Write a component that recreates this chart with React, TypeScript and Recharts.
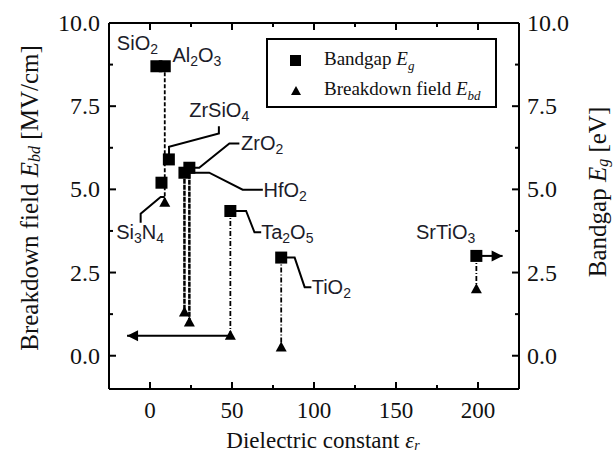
import React from "react";
import { ScatterChart, Scatter, XAxis, YAxis, Legend } from "recharts";

// bandgap points (squares), eps vs Eg [eV]
const gapNames = ["SiO2", "Al2O3", "Si3N4", "ZrSiO4", "HfO2", "ZrO2", "Ta2O5", "TiO2", "SrTiO3"];
const gapEps = [3.9, 9, 7, 11.5, 21, 24, 49, 80, 199];
const gapEg = [8.7, 8.7, 5.2, 5.9, 5.5, 5.65, 4.35, 2.95, 3.0];

// breakdown field points (triangles), eps vs Ebd [MV/cm]
const fieldEps = [9, 21, 24, 49, 80, 199];
const fieldEbd = [4.6, 1.3, 1.0, 0.6, 0.25, 2.0];
const fieldTop = [8.7, 5.5, 5.65, 4.35, 2.95, 3.0];
const fieldDash = ["4 2", "5 1", "5 1", "5 2 1 2", "5 2 1 2", "5 2 1 2"];

// arrows (from, to)
const arrows = [
  { from: [49, 0.6], to: [-14, 0.6], dir: "left" },
  { from: [199, 3.0], to: [215, 3.0], dir: "right" },
];

// leader lines to labels
const leaders = [
  [[11.6, 5.9], [11.6, 6.28], [42, 6.68], [42, 6.9]],
  [[24, 5.65], [30, 5.65], [48.4, 6.38], [54.5, 6.38]],
  [[21, 5.5], [36.1, 5.5], [56.5, 4.99], [68.8, 4.99]],
  [[49, 4.35], [58.6, 4.35], [63.7, 3.71], [67.8, 3.71]],
  [[80, 2.95], [88.2, 2.95], [94.3, 2.06], [98.4, 2.06]],
  [[9, 4.77], [6.5, 4.77], [-5.7, 4.27], [-5.7, 4.0]],
];

// label anchors
const labels = [
  { name: "SiO2", x: -20.2, y: 9.4, anchor: "start" },
  { name: "Al2O3", x: 13.7, y: 9.04, anchor: "start" },
  { name: "ZrSiO4", x: 23.9, y: 7.38, anchor: "start" },
  { name: "ZrO2", x: 55.5, y: 6.38, anchor: "start" },
  { name: "HfO2", x: 69.2, y: 4.99, anchor: "start" },
  { name: "Ta2O5", x: 67.8, y: 3.71, anchor: "start" },
  { name: "TiO2", x: 98.6, y: 2.06, anchor: "start" },
  { name: "Si3N4", x: -6, y: 3.71, anchor: "middle" },
  { name: "SrTiO3", x: 162.2, y: 3.71, anchor: "start" },
];

const xTicks = [0, 25, 50, 75, 100, 125, 150, 175, 200];
const yTicks = [0, 1.25, 2.5, 3.75, 5, 6.25, 7.5, 8.75, 10];

const gapData = gapEps.map((x, i) => ({ x, y: gapEg[i], name: gapNames[i] }));
const fieldData = fieldEps.map((x, i) => ({ x, y: fieldEbd[i] }));

const serif = "'Liberation Serif', 'Times New Roman', serif";
const sans = "'Liberation Sans', Arial, sans-serif";

const Square = ({ cx, cy }: any) => <rect x={cx - 6} y={cy - 6} width={12} height={12} fill="#000" />;
const Tri = ({ cx, cy }: any) => (
  <polygon points={`${cx},${cy - 6} ${cx - 5.5},${cy + 4} ${cx + 5.5},${cy + 4}`} fill="#000" />
);
const Nothing = () => <g />;

const Head = (dir: string) => ({ cx, cy }: any) =>
  dir === "left" ? (
    <polygon points={`${cx},${cy} ${cx + 11},${cy - 5.5} ${cx + 11},${cy + 5.5}`} fill="#000" />
  ) : (
    <polygon points={`${cx},${cy} ${cx - 11},${cy - 5.5} ${cx - 11},${cy + 5.5}`} fill="#000" />
  );

const Chem = ({ cx, cy, payload }: any) => {
  const parts = String(payload.name).split(/(\d)/).filter((p) => p !== "");
  let sub = false;
  return (
    <text x={cx} y={cy} dominantBaseline="central" textAnchor={payload.anchor} fontFamily={sans} fontSize={20} fill="#1c1c2a">
      {parts.map((p, i) => {
        const isSub = /\d/.test(p);
        const dy = isSub ? 6 : sub ? -6 : 0;
        sub = isSub;
        return (
          <tspan key={i} dy={dy} fontSize={isSub ? 14 : 20}>
            {p}
          </tspan>
        );
      })}
    </text>
  );
};

const BottomTick = ({ x, y, payload }: any) => {
  const major = payload.value % 50 === 0;
  return (
    <g>
      <line x1={x} x2={x} y1={y} y2={y - (major ? 7 : 4)} stroke="#000" strokeWidth={2} />
      {major && (
        <text x={x} y={y + 21} textAnchor="middle" dominantBaseline="central" fontFamily={serif} fontSize={23} fill="#111">
          {payload.value}
        </text>
      )}
    </g>
  );
};
const TopTick = ({ x, y, payload }: any) => {
  const major = payload.value % 50 === 0;
  return <line x1={x} x2={x} y1={y} y2={y + (major ? 7 : 4)} stroke="#000" strokeWidth={2} />;
};
const LeftTick = ({ x, y, payload }: any) => {
  const major = payload.value % 2.5 === 0;
  return (
    <g>
      <line x1={x} x2={x + (major ? 7 : 4)} y1={y} y2={y} stroke="#000" strokeWidth={2} />
      {major && (
        <text x={x - 9} y={y} dominantBaseline="central" textAnchor="end" fontFamily={serif} fontSize={24} fill="#111">
          {payload.value.toFixed(1)}
        </text>
      )}
    </g>
  );
};
const RightTick = ({ x, y, payload }: any) => {
  const major = payload.value % 2.5 === 0;
  return (
    <g>
      <line x1={x} x2={x - (major ? 7 : 4)} y1={y} y2={y} stroke="#000" strokeWidth={2} />
      {major && (
        <text x={x + 8} y={y} dominantBaseline="central" textAnchor="start" fontFamily={serif} fontSize={24} fill="#111">
          {payload.value.toFixed(1)}
        </text>
      )}
    </g>
  );
};

const LeftTitle = () => (
  <text transform="translate(29,198) rotate(-90)" textAnchor="middle" dominantBaseline="central" fontFamily={serif} fontSize={25} fill="#111">
    Breakdown field <tspan fontStyle="italic">E</tspan>
    <tspan fontStyle="italic" fontSize={16} dy={5}>bd</tspan>
    <tspan dy={-5}> [MV/cm]</tspan>
  </text>
);
const RightTitle = () => (
  <text transform="translate(597,192) rotate(-90)" textAnchor="middle" dominantBaseline="central" fontFamily={serif} fontSize={25} fill="#111">
    Bandgap <tspan fontStyle="italic">E</tspan>
    <tspan fontStyle="italic" fontSize={16} dy={5}>g</tspan>
    <tspan dy={-5}> [eV]</tspan>
  </text>
);
const BottomTitle = () => (
  <text x={323} y={440} textAnchor="middle" dominantBaseline="central" fontFamily={serif} fontSize={23} fill="#111">
    Dielectric constant <tspan fontStyle="italic">ε</tspan>
    <tspan fontStyle="italic" fontSize={14} dy={5}>r</tspan>
  </text>
);

const LegendBox = () => (
  <div
    style={{
      width: 231,
      height: 70,
      boxSizing: "border-box",
      border: "2px solid #000",
      background: "#fff",
      fontFamily: serif,
      fontSize: 19,
      color: "#111",
      padding: "6px 0 0 20px",
    }}
  >
    <div style={{ display: "flex", alignItems: "center", height: 30 }}>
      <svg width={16} height={16} style={{ marginRight: 20 }}>
        <rect x={2} y={2} width={11} height={11} fill="#000" />
      </svg>
      <span>
        Bandgap <i>E</i>
        <sub style={{ fontSize: 13, fontStyle: "italic" }}>g</sub>
      </span>
    </div>
    <div style={{ display: "flex", alignItems: "center", height: 30 }}>
      <svg width={16} height={16} style={{ marginRight: 20 }}>
        <polygon points="8,3 3,12 13,12" fill="#000" />
      </svg>
      <span>
        Breakdown field <i>E</i>
        <sub style={{ fontSize: 13, fontStyle: "italic" }}>bd</sub>
      </span>
    </div>
  </div>
);

export default function App() {
  return (
    <div style={{ position: "absolute", left: 0, top: 0 }}>
      <ScatterChart width={615} height={459} margin={{ top: 0, right: 0, bottom: 0, left: 0 }}>
        <XAxis
          dataKey="x"
          type="number"
          domain={[-25, 225]}
          allowDataOverflow
          ticks={xTicks}
          interval={0}
          height={70}
          tickSize={0}
          tickMargin={0}
          tickLine={false}
          tick={<BottomTick />}
          axisLine={{ stroke: "#000", strokeWidth: 2 }}
          label={<BottomTitle />}
        />
        <XAxis
          xAxisId="top"
          orientation="top"
          dataKey="x"
          type="number"
          domain={[-25, 225]}
          allowDataOverflow
          ticks={xTicks}
          interval={0}
          height={23}
          tickSize={0}
          tickMargin={0}
          tickLine={false}
          tick={<TopTick />}
          axisLine={{ stroke: "#000", strokeWidth: 2 }}
        />
        <YAxis
          dataKey="y"
          type="number"
          domain={[-1, 10]}
          allowDataOverflow
          ticks={yTicks}
          interval={0}
          width={109}
          tickSize={0}
          tickMargin={0}
          tickLine={false}
          tick={<LeftTick />}
          axisLine={{ stroke: "#000", strokeWidth: 2 }}
          label={<LeftTitle />}
        />
        <YAxis
          yAxisId="right"
          orientation="right"
          dataKey="y"
          type="number"
          domain={[-1, 10]}
          allowDataOverflow
          ticks={yTicks}
          interval={0}
          width={96}
          tickSize={0}
          tickMargin={0}
          tickLine={false}
          tick={<RightTick />}
          axisLine={{ stroke: "#000", strokeWidth: 2 }}
          label={<RightTitle />}
        />
        <Legend
          layout="horizontal"
          verticalAlign="middle"
          align="center"
          content={<LegendBox />}
          wrapperStyle={{ left: 266, top: 38, width: 231, height: 70 }}
        />

        {fieldEps.map((x, i) => (
          <Scatter
            key={`drop-${i}`}
            data={[{ x, y: fieldTop[i] }, { x, y: fieldEbd[i] }]}
            line={{ stroke: "#000", strokeWidth: i === 1 || i === 2 ? 2.5 : 1.8, strokeDasharray: fieldDash[i] }}
            shape={Nothing}
            isAnimationActive={false}
            legendType="none"
          />
        ))}
        {leaders.map((pts, i) => (
          <Scatter
            key={`lead-${i}`}
            data={pts.map(([x, y]) => ({ x, y }))}
            line={{ stroke: "#000", strokeWidth: 2 }}
            shape={Nothing}
            isAnimationActive={false}
            legendType="none"
          />
        ))}
        {arrows.map((a, i) => (
          <Scatter
            key={`arrow-${i}`}
            data={[{ x: a.from[0], y: a.from[1] }, { x: a.to[0], y: a.to[1] }]}
            line={{ stroke: "#000", strokeWidth: 2 }}
            shape={Nothing}
            isAnimationActive={false}
            legendType="none"
          />
        ))}
        {arrows.map((a, i) => (
          <Scatter
            key={`head-${i}`}
            data={[{ x: a.to[0], y: a.to[1] }]}
            shape={Head(a.dir)}
            isAnimationActive={false}
            legendType="none"
          />
        ))}
        <Scatter name="Bandgap" data={gapData} shape={Square} isAnimationActive={false} />
        <Scatter name="Breakdown field" data={fieldData} shape={Tri} isAnimationActive={false} />
        <Scatter data={labels} shape={Chem} isAnimationActive={false} legendType="none" />
      </ScatterChart>
    </div>
  );
}
